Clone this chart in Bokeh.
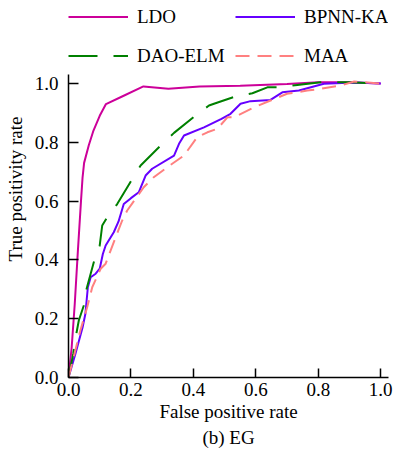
from bokeh.plotting import figure
from bokeh.models import Range1d, Title, FixedTicker, Legend, LegendItem
from bokeh.embed import file_html
from bokeh.resources import INLINE

FONT = "Liberation Serif"

series_names = ["LDO", "BPNN-KA", "DAO-ELM", "MAA"]
series_colors = ["#CC0099", "#6600FF", "#008000", "#FF8080"]
series_dash = ["solid", "solid", "29 16", "14 8"]

ldo_fpr = [0, 0.01, 0.02, 0.03, 0.04, 0.045, 0.05, 0.065, 0.08, 0.1, 0.12, 0.17, 0.24, 0.32, 0.42, 0.55, 0.7, 0.8, 0.9, 1.0]
ldo_tpr = [0, 0.1, 0.25, 0.43, 0.6, 0.68, 0.73, 0.79, 0.84, 0.89, 0.93, 0.955, 0.99, 0.982, 0.99, 0.992, 0.998, 1.004, 1.004, 1.0]

bpnn_fpr = [0, 0.022, 0.045, 0.054, 0.062, 0.071, 0.087, 0.1, 0.11, 0.119, 0.145, 0.16, 0.177, 0.2, 0.225, 0.247, 0.268, 0.338, 0.354, 0.37, 0.434, 0.49, 0.519, 0.551, 0.583, 0.647, 0.685, 0.738, 0.818, 0.915, 1.0]
bpnn_tpr = [0, 0.08, 0.17, 0.216, 0.307, 0.341, 0.353, 0.37, 0.42, 0.449, 0.494, 0.53, 0.59, 0.61, 0.63, 0.687, 0.71, 0.755, 0.795, 0.823, 0.851, 0.88, 0.897, 0.931, 0.94, 0.944, 0.97, 0.976, 0.999, 1.003, 1.0]

dao_fpr = [0, 0.015, 0.026, 0.033, 0.049, 0.058, 0.081, 0.1, 0.108, 0.124, 0.156, 0.204, 0.231, 0.295, 0.338, 0.407, 0.45, 0.466, 0.535, 0.589, 0.637, 0.674, 0.733, 0.808, 0.9, 1.0]
dao_tpr = [0, 0.08, 0.154, 0.194, 0.245, 0.302, 0.392, 0.449, 0.517, 0.545, 0.59, 0.675, 0.721, 0.789, 0.832, 0.891, 0.925, 0.931, 0.956, 0.967, 0.987, 0.987, 0.995, 1.004, 1.004, 1.0]

maa_fpr = [0, 0.038, 0.06, 0.076, 0.103, 0.119, 0.151, 0.172, 0.188, 0.241, 0.273, 0.316, 0.37, 0.412, 0.445, 0.477, 0.509, 0.53, 0.594, 0.7, 0.765, 0.808, 0.872, 0.915, 1.0]
maa_tpr = [0, 0.16, 0.24, 0.307, 0.37, 0.387, 0.477, 0.534, 0.568, 0.647, 0.681, 0.715, 0.755, 0.817, 0.834, 0.846, 0.885, 0.885, 0.919, 0.965, 0.976, 0.982, 0.993, 1.007, 1.0]

tick_values = [0.0, 0.2, 0.4, 0.6, 0.8, 1.0]

x_data = [ldo_fpr, bpnn_fpr, dao_fpr, maa_fpr]
y_data = [ldo_tpr, bpnn_tpr, dao_tpr, maa_tpr]

# frame spans the whole height down to the x axis; the upper band holds the legend,
# and the y axis itself is bounded to 0..1.03
p = figure(width=396, height=450, output_backend="svg", toolbar_location=None,
           x_range=Range1d(0, 1.025), y_range=Range1d(0, 1.2823),
           min_border_left=68, min_border_right=8, min_border_top=0, min_border_bottom=73)
p.grid.visible = False
p.outline_line_color = None

renderers = []
for i in range(4):
    r = p.line(x_data[i], y_data[i], line_color=series_colors[i], line_width=2,
               line_dash=series_dash[i])
    renderers.append(r)

legend = Legend(items=[LegendItem(label=series_names[i], renderers=[renderers[i]]) for i in range(4)],
                orientation="horizontal", ncols=2, location=(0, 302),
                glyph_width=60, glyph_height=39, label_width=98, label_height=39,
                label_standoff=9, spacing=0, padding=0, margin=0,
                border_line_color=None, background_fill_alpha=0,
                label_text_font=FONT, label_text_font_size="19px", label_text_color="black")
p.add_layout(legend, "center")

for ax in (p.xaxis[0], p.yaxis[0]):
    ax.ticker = FixedTicker(ticks=tick_values)
    ax.minor_tick_line_color = None
    ax.major_tick_out = 0
    ax.axis_line_color = "black"
    ax.axis_line_width = 1.5
    ax.major_tick_line_width = 1.5
    ax.major_label_text_font = FONT
    ax.major_label_text_font_size = "19px"
    ax.major_label_text_color = "black"
    ax.axis_label_text_font = FONT
    ax.axis_label_text_font_size = "19px"
    ax.axis_label_text_font_style = "normal"
    ax.axis_label_text_color = "black"

p.yaxis[0].bounds = (0, 1.03)
p.xaxis[0].major_tick_in = 9
p.yaxis[0].major_tick_in = 10
p.xaxis[0].major_label_standoff = 5
p.yaxis[0].major_label_standoff = 10
p.xaxis[0].axis_label = "False positive rate"
p.yaxis[0].axis_label = "True positivity rate"
p.xaxis[0].axis_label_standoff = 2
p.yaxis[0].axis_label_standoff = 6
p.xaxis[0].major_label_overrides = {v: f"{v:.1f}" for v in tick_values}
p.yaxis[0].major_label_overrides = {v: f"{v:.1f}" for v in tick_values}

cap = Title(text="(b) EG", align="center", text_font=FONT, text_font_size="19px",
            text_font_style="normal", text_color="black", standoff=0)
p.add_layout(cap, "below")

open("out.html", "w").write(file_html(p, INLINE))
